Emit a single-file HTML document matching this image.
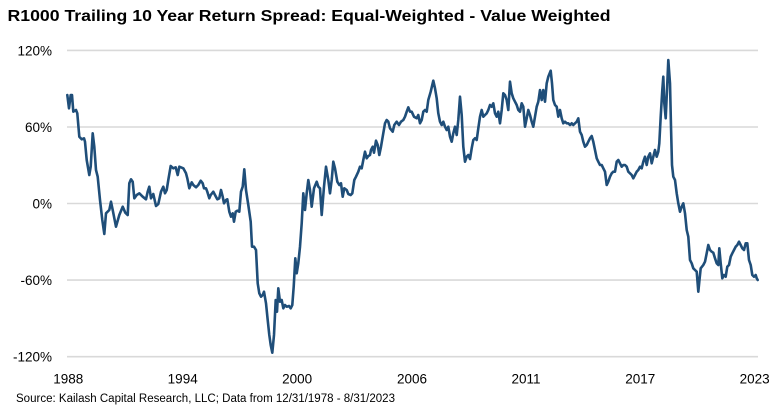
<!DOCTYPE html>
<html>
<head>
<meta charset="utf-8">
<style>
  html,body{margin:0;padding:0;background:#fff;}
  svg{display:block;}
  text{font-family:"Liberation Sans",Arial,sans-serif;fill:#000;}
</style>
</head>
<body>
<svg width="780" height="408" viewBox="0 0 780 408" xmlns="http://www.w3.org/2000/svg">
  <rect x="0" y="0" width="780" height="408" fill="#fff"/>
  <text x="7.5" y="21" font-size="15.5" font-weight="bold" textLength="603" lengthAdjust="spacingAndGlyphs">R1000 Trailing 10 Year Return Spread: Equal-Weighted - Value Weighted</text>

  <g stroke="#d9d9d9" stroke-width="1.6">
    <line x1="67" y1="50.4" x2="758" y2="50.4"/>
    <line x1="67" y1="127" x2="758" y2="127"/>
    <line x1="67" y1="203.5" x2="758" y2="203.5"/>
    <line x1="67" y1="280.1" x2="758" y2="280.1"/>
    <line x1="67" y1="356.7" x2="758" y2="356.7"/>
  </g>

  <g font-size="13.5" text-anchor="end">
    <text x="52" y="55.5">120%</text>
    <text x="52" y="132">60%</text>
    <text x="52" y="208.5">0%</text>
    <text x="52" y="285">-60%</text>
    <text x="52" y="361.7">-120%</text>
  </g>

  <g font-size="13.5" text-anchor="middle">
    <text x="68.3" y="383.5">1988</text>
    <text x="182.7" y="383.5">1994</text>
    <text x="297.1" y="383.5">2000</text>
    <text x="412" y="383.5">2006</text>
    <text x="526" y="383.5">2011</text>
    <text x="640.3" y="383.5">2017</text>
    <text x="754.6" y="383.5">2023</text>
  </g>

  <text x="16" y="402" font-size="11.5" textLength="379" lengthAdjust="spacingAndGlyphs">Source: Kailash Capital Research, LLC; Data from 12/31/1978 - 8/31/2023</text>

  <polyline fill="none" stroke="#1f4e79" stroke-width="2.6" stroke-linejoin="round" stroke-linecap="round" points="
67.3,95 69,108.3 70.7,95 72,95 73.3,111.7 76,110 77.3,113.3 79.3,136.7 81.7,139.3 84,138.3 85,141.7 86.7,160 89.3,175 90.7,166.7 92.7,133.3 94.3,146.7 96,170 97.7,176.7 100,200 102.3,220 104.3,234 106,213.3 109.3,210 111,201.7 112.7,210 116,226.7 119.3,215 122.7,206.7 125.3,212.7 127.7,215 129.3,183.3 131,179.3 132.7,181.7 134.3,198.3 136.7,195 139.3,193.3 142.7,196.7 146,199.3 147.7,191.7 149.3,186.7 151,198.3 153.3,194 156,206 158.3,204 161,191.7 163.3,186.7 165,193.3 166.7,190 168.3,180 170.7,166 173.3,168.3 175.7,167.3 177.7,175 179.3,166.7
183.3,168.3 186,173.3 187.3,178.3 189.3,188.3 191.7,182.3 193.3,185 196,187.3 198.3,185 200.7,180.7 202.7,183.3 204,188.3 206,188.3 207.3,191.7 209.3,198.3 210.7,195 213.3,191.7 215,195 217.3,199.3 219.3,198.3 221,190 222.7,196.7 224,203.3 226,200 227.3,199.3 229.3,211.7 231,216.7 232.7,213.3 234,221.7 235.7,211.7 237.3,210.7 239.3,211.7 241,191.7 242.7,186.7 244.3,169.3 246,190 248.3,205 250.7,221.7 252,246.7 254,246.7 256,250 257.7,283.3 259.3,293.3 261,296.7 262.7,295 264,291.7 266,303.3 267.7,320 269.3,335 270.7,345 272.3,352.7 274,335 275.7,300 277,311.7 278.3,288.3 280,301.7 281.7,300 283.3,308.3 285,305 286.7,306.7 289,306 290.7,308.3 292.3,305 293.7,286.7 295.3,258.3 296.7,273.3 298.3,263.3 300,246.7
301.7,223.3 303.3,193.3 305,210 306.7,193.3 308.3,180 310,190 311.7,206.7 314,188.3 316.7,181.7 318.3,186.7 320,188.3 321.7,215 324,186.7 326,166.7 328.3,180 330,193.3 331.7,180 333.3,161.7 335,168.3 337.3,181.7 339.3,185 341,183.3 342.7,196.7 344.3,188.3 346.7,190 348.3,194 350.7,195 352.3,193.3 354.3,180 356,176.7 358.3,171.7 360,166.7 361.7,168.3 363.3,160 365,151.7 366.7,158.3 368.3,156 370,155 371,150 372.7,146.7 374,152.7 376,140.7 377.7,145 379.3,155 381,146.7 382.7,136.7 385,123.3 386.7,120 388.3,121.7 390,128.3 392.7,131.7 394.3,125 396.7,121.7 399,125 401,121.7 403.3,120 405,116.7 406.7,111.7 408.3,107.3 410,111.7 411.7,111.7 414,116.7 416.7,118.3 418.3,115 420,123.3
421.7,120 423.3,111.7 425,110 426.7,111.7 428.3,100 430.7,91.7 433.3,80.7 435,88.3 436.7,98.3 438.3,113.3 440,121.7 441.7,125 443.3,121.7 445,126.7 446.7,130 448.3,126.7 450,136.7 451.7,141.7 453.3,133.3 455,126.7 456.7,135 458.3,120 460,96.7 461.7,115 463.3,146.7 465,161.7 466.7,156.7 468.3,155 470,159 471.7,148.3 473.3,140 475,138.3 476.7,140 478.3,128.3 480,116.7 481.7,110 483.3,116.7 485,115 486.7,113.3 488.3,110 490,105 491.7,106.7 493.3,103.3 495,113.3 496.7,116.7 498.3,111.7 500,123.3 501.7,110 503.3,93.3 505,95 506.7,100 508.3,110 510,81.7 511.7,93.3 513.3,98.3 515,101.7 516.7,105 518.3,110 520,111.7 521.7,103.3 523.3,106.7 525,126.7 526.7,118.3 528.3,110 530,115 531.7,121.7 533.3,126.7 535,116.7 536.7,106.7 538.3,101.7
540,90 541.7,100 543.3,90 545,101.7 546.7,83.3 548.3,76.7 550.7,70.7 552,83.3 553.3,100 555,105 556.7,106.7 558.3,116.7 560,110 561.7,118.3 563.3,123.3 565,121.7 566.7,123.3 568.3,123.3 570,125 571.7,123.3 573.3,125 575,123.3 576.7,121.7 578.3,118.3 580,131.7 581.7,135 583.3,141.7 585,146.7 586.7,145 588.3,141.7 590,138.3 591.7,136 593.3,141.7 595,150 596.7,158.3 598.3,161.7 600,165 601.7,165 603.3,168.3 605,171.7 606.7,185 608.3,181.7 610,176.7 611.7,173.3 613.3,171.7 615,171.7 616.7,161.7 618.3,160 620,163.3 621.7,166.7 623.3,165 625,165 626.7,166.7 628.3,171.7 630,173.3 631.7,175 633.3,178.3 635,175 636.7,171.7 638.3,170 640,166.7 641.7,168.3 643.3,161.7 645,156.7 646.7,165 648.3,156.7 650,153.3 651.7,163.3 653.3,156.7 655,150 656.7,156.7 658.3,151.7 659.3,143.3 660.7,116.7 662.3,90 663.3,76.7 664.3,103.3 665.7,118.3 667.3,83.3 668.3,60
670,83.3 671,126.7 672,165 673.3,176.7 675,180 676.7,193.3 678.3,203.3 680,211.7 681.7,206.7 683.3,203.3 685,213.3 686.7,230 688.3,236.7 690,260 691.7,263.3 693.3,268.3 695,270 696.7,271.7 698.3,291.7 699.3,281.7 700.7,268.3 703.3,265 705,261.7 706.7,253.3 708.3,245 710,250 711.7,251.7 713.3,252.7 715,258.3 716.7,263.3 718.3,265 719.3,248.3 720.7,263.3 722.3,278.3 724,275 725.7,276.7 727.3,266.7 729,265 730.7,256.7 732.3,253.3 734,250 735.7,246.7 737.3,245 739,241.7 740.7,245 742.3,248.3 744,250 745.7,243.3 747.3,243.3 749,260 750.7,265 752.3,275 754,276.7 755.7,275 756.7,278.3 757.7,280"/>
</svg>
</body>
</html>
